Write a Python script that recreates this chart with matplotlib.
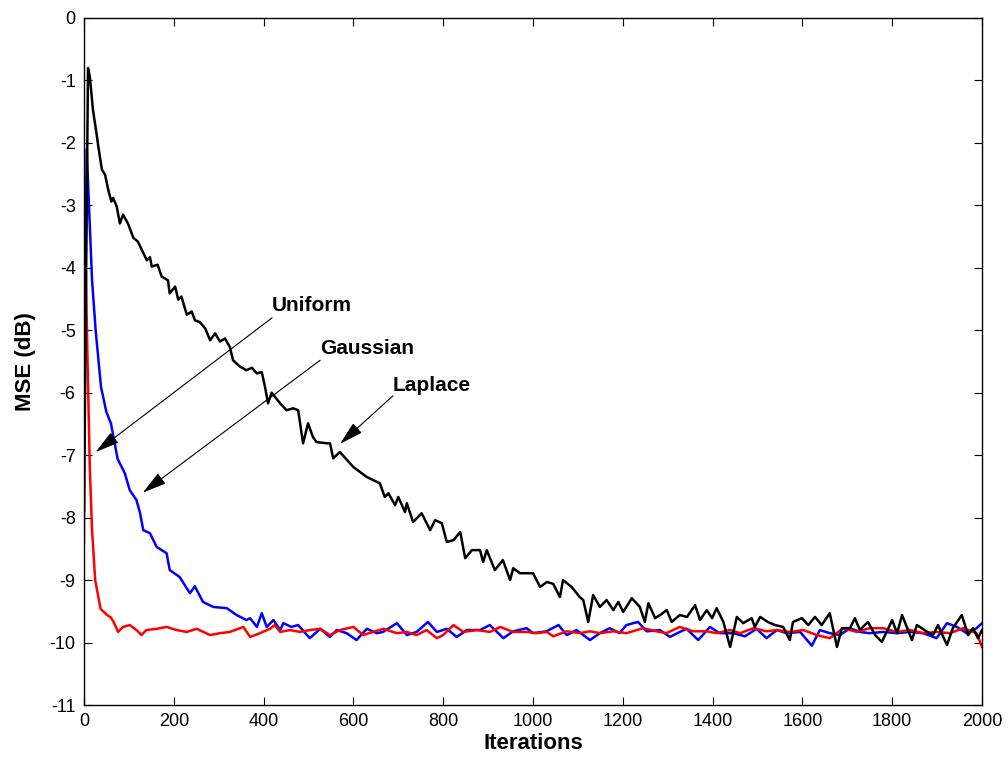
import matplotlib
matplotlib.use('Agg')
import matplotlib.pyplot as plt

plt.rcParams['font.family'] = ['Liberation Sans', 'DejaVu Sans']
plt.rcParams['axes.unicode_minus'] = False

# Laplace (black)
lap_x = [0, 9, 13, 20, 29, 32, 40, 47, 54, 61, 65, 73, 80, 87, 98, 110, 120, 128, 140, 147,
         151, 164, 173, 187, 191, 203, 210, 217, 229, 240, 247, 258, 270, 281, 292, 303, 314,
         325, 332, 347, 362, 374, 385, 396, 403, 410, 418, 437, 451, 466, 477, 488, 499, 510,
         518, 541, 548, 555, 570, 600, 630, 659, 670, 678, 693, 700, 715, 719, 733, 752, 771,
         782, 797, 808, 823, 838, 849, 864, 882, 889, 897, 915, 933, 949, 956, 971, 986, 1000,
         1016, 1031, 1045, 1060, 1067, 1086, 1104, 1112, 1123, 1134, 1149, 1164, 1179, 1190,
         1201, 1220, 1238, 1249, 1257, 1272, 1283, 1298, 1309, 1327, 1343, 1361, 1372, 1387,
         1399, 1409, 1424, 1439, 1454, 1468, 1487, 1494, 1506, 1523, 1539, 1557, 1572, 1579,
         1599, 1613, 1628, 1643, 1661, 1677, 1688, 1706, 1717, 1728, 1746, 1762, 1777, 1800,
         1811, 1822, 1844, 1855, 1878, 1891, 1902, 1922, 1935, 1955, 1969, 1980, 1991, 2000]
lap_y = [-7.9, -0.8, -0.94, -1.47, -1.9, -2.06, -2.43, -2.51, -2.75, -2.94, -2.88, -3.02,
         -3.29, -3.15, -3.29, -3.52, -3.58, -3.7, -3.88, -3.83, -3.98, -3.95, -4.14, -4.2,
         -4.41, -4.3, -4.51, -4.46, -4.75, -4.7, -4.84, -4.87, -4.97, -5.16, -5.05, -5.18,
         -5.13, -5.27, -5.48, -5.58, -5.64, -5.6, -5.69, -5.67, -5.9, -6.17, -6.0, -6.17,
         -6.28, -6.25, -6.28, -6.81, -6.49, -6.71, -6.79, -6.81, -6.81, -7.05, -6.95, -7.19,
         -7.35, -7.45, -7.67, -7.61, -7.8, -7.67, -7.91, -7.77, -8.07, -7.93, -8.2, -8.04,
         -8.09, -8.39, -8.36, -8.23, -8.65, -8.52, -8.52, -8.71, -8.52, -8.84, -8.68, -9.0,
         -8.81, -8.89, -8.89, -8.89, -9.11, -9.03, -9.06, -9.27, -9.0, -9.11, -9.27, -9.32,
         -9.67, -9.24, -9.43, -9.32, -9.48, -9.35, -9.51, -9.29, -9.43, -9.67, -9.37, -9.61,
         -9.56, -9.48, -9.67, -9.56, -9.59, -9.4, -9.64, -9.48, -9.61, -9.45, -9.67, -10.07,
         -9.59, -9.69, -9.61, -9.75, -9.59, -9.67, -9.72, -9.75, -9.96, -9.67, -9.61, -9.72,
         -9.59, -9.72, -9.53, -10.07, -9.77, -9.77, -9.61, -9.8, -9.67, -9.88, -9.99, -9.64,
         -9.85, -9.56, -9.96, -9.72, -9.83, -9.88, -9.72, -10.04, -9.77, -9.56, -9.88, -9.77,
         -9.93, -9.8]

# Gaussian (blue)
gau_x = [0, 6, 18, 26, 38, 50, 60, 75, 91, 102, 117, 125, 132, 147, 162, 184, 191, 213, 236,
         247, 265, 288, 318, 340, 362, 370, 385, 396, 407, 422, 437, 444, 462, 477, 503, 526,
         548, 563, 585, 607, 630, 652, 666, 697, 719, 741, 766, 786, 808, 830, 853, 882, 904,
         934, 956, 986, 1000, 1030, 1057, 1075, 1097, 1127, 1149, 1171, 1193, 1208, 1234, 1253,
         1283, 1305, 1327, 1342, 1368, 1394, 1416, 1446, 1472, 1498, 1520, 1543, 1565, 1595,
         1621, 1639, 1661, 1684, 1706, 1728, 1750, 1780, 1810, 1840, 1869, 1899, 1922, 1944,
         1966, 1988, 2000]
gau_y = [-7.0, -2.1, -4.2, -5.0, -5.91, -6.31, -6.49, -7.06, -7.29, -7.56, -7.72, -7.93, -8.2,
         -8.25, -8.47, -8.57, -8.84, -8.95, -9.21, -9.1, -9.35, -9.43, -9.45, -9.56, -9.64,
         -9.61, -9.75, -9.53, -9.75, -9.64, -9.8, -9.69, -9.75, -9.72, -9.93, -9.78, -9.91,
         -9.8, -9.85, -9.96, -9.78, -9.85, -9.83, -9.69, -9.88, -9.83, -9.67, -9.83, -9.78,
         -9.91, -9.8, -9.8, -9.72, -9.93, -9.82, -9.77, -9.85, -9.82, -9.72, -9.88, -9.8,
         -9.96, -9.85, -9.77, -9.85, -9.72, -9.67, -9.82, -9.8, -9.91, -9.83, -9.78, -9.96,
         -9.75, -9.85, -9.85, -9.9, -9.78, -9.93, -9.8, -9.85, -9.83, -10.05, -9.8, -9.85,
         -9.88, -9.77, -9.83, -9.85, -9.83, -9.85, -9.83, -9.85, -9.93, -9.69, -9.75, -9.85,
         -9.77, -9.69]

# Uniform (red)
uni_x = [0, 3, 8, 13, 18, 25, 37, 50, 60, 66, 76, 87, 102, 117, 128, 139, 162, 184, 206, 229,
         251, 281, 303, 325, 355, 370, 392, 414, 425, 437, 459, 481, 503, 526, 548, 570, 600,
         622, 644, 667, 697, 719, 741, 763, 786, 800, 823, 845, 875, 904, 927, 956, 986, 1008,
         1031, 1045, 1075, 1104, 1127, 1149, 1179, 1208, 1245, 1275, 1297, 1327, 1357, 1387,
         1409, 1439, 1461, 1491, 1520, 1543, 1572, 1602, 1632, 1661, 1691, 1721, 1750, 1780,
         1810, 1840, 1869, 1899, 1929, 1958, 1988, 2000]
uni_y = [-8.4, -3.65, -5.5, -7.2, -8.2, -9.0, -9.46, -9.55, -9.6, -9.67, -9.83, -9.75, -9.72,
         -9.8, -9.88, -9.8, -9.78, -9.75, -9.8, -9.83, -9.78, -9.88, -9.85, -9.83, -9.75,
         -9.91, -9.85, -9.78, -9.72, -9.83, -9.8, -9.83, -9.8, -9.78, -9.88, -9.8, -9.75,
         -9.88, -9.83, -9.78, -9.85, -9.83, -9.88, -9.8, -9.93, -9.88, -9.72, -9.83, -9.8,
         -9.83, -9.75, -9.83, -9.83, -9.85, -9.83, -9.9, -9.82, -9.85, -9.82, -9.85, -9.82,
         -9.85, -9.77, -9.82, -9.85, -9.75, -9.82, -9.82, -9.85, -9.8, -9.85, -9.77, -9.82,
         -9.8, -9.83, -9.8, -9.88, -9.93, -9.77, -9.83, -9.77, -9.77, -9.83, -9.8, -9.85,
         -9.83, -9.85, -9.77, -9.85, -10.07]

labels = ['Uniform', 'Gaussian', 'Laplace']
label_pos = [(419, -4.61), (526, -5.29), (688, -5.88)]
arrow_tips = [(26, -6.95), (131, -7.6), (570, -6.82)]
arrow_tails = [(419, -4.8), (526, -5.48), (688, -6.05)]

fig = plt.figure(figsize=(10.08, 7.62), dpi=100)
ax = fig.add_axes([0.0833, 0.0748, 0.8909, 0.9016])

ax.plot(gau_x, gau_y, color='#0000ff', lw=1.8)
ax.plot(uni_x, uni_y, color='#ff0000', lw=1.8)
ax.plot(lap_x, lap_y, color='black', lw=1.8)

for lab, (tx, ty), tip, tail in zip(labels, label_pos, arrow_tips, arrow_tails):
    ax.text(tx, ty, lab, fontsize=15, fontweight='bold', ha='left', va='center')
    ax.annotate('', xy=tip, xytext=tail,
                arrowprops=dict(arrowstyle='-|>,head_length=1.5,head_width=0.4',
                                lw=0.8, color='black', shrinkA=0, shrinkB=0))

ax.set_xlim(0, 2000)
ax.set_ylim(-11, 0)
ax.set_xticks(range(0, 2001, 200))
ax.set_yticks(range(-11, 1))
ax.tick_params(direction='in', length=6, width=0.8, top=True, right=True,
               labelsize=13, pad=6)
for s in ax.spines.values():
    s.set_linewidth(1.0)
ax.set_xlabel('Iterations', fontsize=16, fontweight='bold', labelpad=2)
ax.set_ylabel('MSE (dB)', fontsize=16, fontweight='bold', labelpad=10)

fig.savefig('out.png', dpi=100)
